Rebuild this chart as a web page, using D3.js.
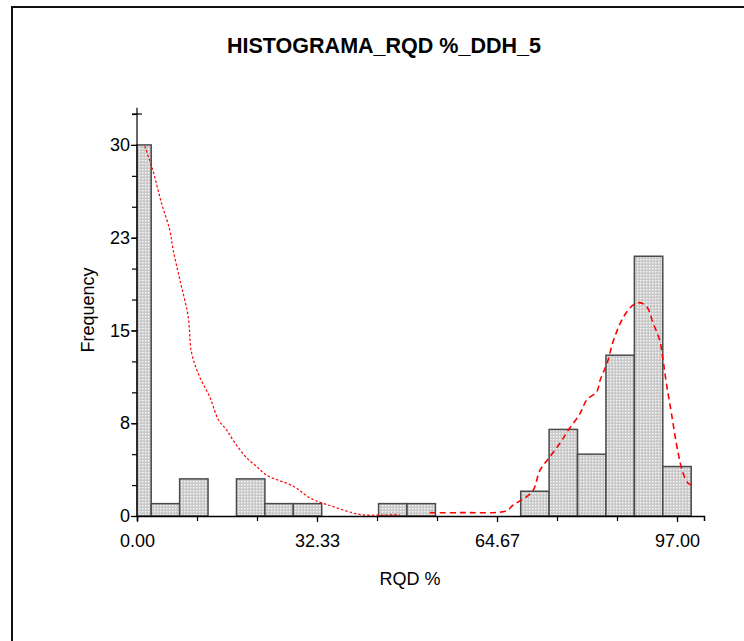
<!DOCTYPE html>
<html>
<head>
<meta charset="utf-8">
<script src="https://cdn.jsdelivr.net/npm/d3@7/dist/d3.min.js"></script>
<style>
  html, body { margin: 0; padding: 0; background: #fff; }
  svg { display: block; }
  text { font-family: "Liberation Sans", Arial, sans-serif; fill: #000; }
</style>
</head>
<body>
<svg id="chart" width="744" height="641"></svg>
<script>
// RQD % histogram, hole DDH_5
const title = "HISTOGRAMA_RQD %_DDH_5";
const xLabel = "RQD %";
const yLabel = "Frequency";

// 20 bins centred on k * 97/19, counts per bin
const binWidth = 97 / 19;
const counts = [30, 1, 3, 0, 3, 1, 1, 0, 0, 1, 1, 0, 0, 0, 2, 7, 5, 13, 21, 4];

// axis ticks
const xTickValues = [0, 32.33, 64.67, 97];
const xTickLabels = ["0.00", "32.33", "64.67", "97.00"];
const yTickValues = [0, 7.5, 15, 22.5, 30];
const yTickLabels = ["0", "8", "15", "23", "30"];

// fitted density curves, scaled to frequency (low-RQD and high-RQD populations)
const lowCurveX = [1.4, 2.75, 4.4, 5.9, 6.5, 7.7, 9.2, 9.8, 11.3, 13.1, 14.6, 16.1, 17.6, 19.7, 21.5, 23.3, 28.1, 31.1, 35.3, 40.1, 44.5, 47.2];
const lowCurveY = [29.9, 28.1, 25.3, 23.1, 21.5, 19.1, 16.1, 13.2, 11.2, 9.6, 7.8, 6.95, 5.9, 4.7, 4.0, 3.3, 2.4, 1.45, 0.75, 0.12, 0.08, 0.1];
const highCurveX = [52.6, 58.0, 66.4, 67.6, 70.0, 71.2, 72.4, 74.2, 76.0, 77.5, 79.6, 80.8, 82.6, 83.2, 84.4, 85.6, 87.4, 89.1, 90.3, 91.6, 92.7, 93.9, 94.5, 95.1, 96.0, 97.2, 98.1, 99.0, 99.8];
const highCurveY = [0.27, 0.27, 0.43, 0.9, 1.56, 2.1, 3.7, 4.8, 5.9, 6.95, 8.3, 9.4, 10.05, 11.0, 12.3, 14.2, 16.1, 17.05, 17.25, 16.9, 15.6, 14.2, 12.6, 10.7, 8.3, 5.1, 3.45, 2.65, 2.5];

const svg = d3.select("#chart");

// outer frame
svg.append("path")
  .attr("d", "M12,650 L12,7 L760,7")
  .attr("fill", "none")
  .attr("stroke", "#111")
  .attr("stroke-width", 2);

const x = d3.scaleLinear().domain([0, 101.85]).range([137, 704]);
const y = d3.scaleLinear().domain([0, 32.5]).range([516, 114]);

// bar fill: light grey with a fine dot grid
const defs = svg.append("defs");
const pat = defs.append("pattern")
  .attr("id", "dots")
  .attr("patternUnits", "userSpaceOnUse")
  .attr("width", 3).attr("height", 3);
pat.append("rect").attr("width", 3).attr("height", 3).attr("fill", "#c9c9c9");
pat.append("rect").attr("x", 1).attr("y", 1).attr("width", 1).attr("height", 1).attr("fill", "#f4f4f4");
pat.append("rect").attr("x", 2).attr("y", 1).attr("width", 1).attr("height", 1).attr("fill", "#e2e2e2");
pat.append("rect").attr("x", 1).attr("y", 2).attr("width", 1).attr("height", 1).attr("fill", "#e2e2e2");

const bins = counts.map((c, k) => {
  const centre = k * binWidth;
  return { x0: Math.max(0, centre - binWidth / 2), x1: centre + binWidth / 2, count: c };
}).filter(d => d.count > 0);

svg.append("g").selectAll("rect")
  .data(bins)
  .join("rect")
  .attr("x", d => x(d.x0))
  .attr("y", d => y(d.count))
  .attr("width", d => x(d.x1) - x(d.x0))
  .attr("height", d => y(0) - y(d.count))
  .attr("fill", "url(#dots)")
  .attr("stroke", "#4a4a4a")
  .attr("stroke-width", 1.5);

// density curves
const line = d3.line()
  .x(d => x(d[0]))
  .y(d => y(d[1]))
  .curve(d3.curveCatmullRom.alpha(0.5));

svg.append("path")
  .datum(lowCurveX.map((v, i) => [v, lowCurveY[i]]))
  .attr("d", line)
  .attr("fill", "none")
  .attr("stroke", "#ff0000")
  .attr("stroke-width", 1.2)
  .attr("stroke-dasharray", "2.5,2");

svg.append("path")
  .datum(highCurveX.map((v, i) => [v, highCurveY[i]]))
  .attr("d", line)
  .attr("fill", "none")
  .attr("stroke", "#ff0000")
  .attr("stroke-width", 1.6)
  .attr("stroke-dasharray", "6,4");

const labelFont = "'Liberation Sans', Arial, sans-serif";

// x axis
const xMinor = d3.range(0, 10).map(i => i * 97 / 9);
const xAxisG = svg.append("g").attr("transform", `translate(0,${y(0)})`);
xAxisG.append("g")
  .call(d3.axisBottom(x).tickValues(xMinor).tickSize(5).tickFormat(""))
  .call(g => g.select(".domain").attr("stroke", "#000").attr("stroke-width", 1.5));
xAxisG.append("g")
  .call(d3.axisBottom(x).tickValues(xTickValues).tickSize(6).tickPadding(12)
    .tickFormat((d, i) => xTickLabels[i]))
  .call(g => g.select(".domain").remove())
  .call(g => g.selectAll("text").attr("font-size", 18).attr("fill", "#000")
    .style("font-family", labelFont));
xAxisG.selectAll("line").attr("stroke", "#000").attr("stroke-width", 1.2);

// y axis
const yMinor = d3.range(0, 14).map(i => i * 2.5);
const yAxisG = svg.append("g").attr("transform", `translate(${x(0)},0)`);
yAxisG.append("line")
  .attr("x1", 0).attr("x2", 0)
  .attr("y1", y(0)).attr("y2", y(33))
  .attr("stroke", "#000").attr("stroke-width", 1.5);
yAxisG.append("g")
  .call(d3.axisLeft(y).tickValues(yMinor).tickSize(5).tickFormat(""))
  .call(g => g.select(".domain").remove());
yAxisG.append("g")
  .call(d3.axisLeft(y).tickValues(yTickValues).tickSize(6).tickPadding(1)
    .tickFormat((d, i) => yTickLabels[i]))
  .call(g => g.select(".domain").remove())
  .call(g => g.selectAll("text").attr("font-size", 18).attr("fill", "#000")
    .style("font-family", labelFont));
// crossing tick at top of the axis
yAxisG.append("line")
  .attr("x1", -5).attr("x2", 5)
  .attr("y1", y(32.5)).attr("y2", y(32.5))
  .attr("stroke", "#000");
yAxisG.selectAll("line").attr("stroke", "#000").attr("stroke-width", 1.2);

// titles
svg.append("text")
  .attr("x", 384).attr("y", 53)
  .attr("text-anchor", "middle")
  .attr("font-size", 22)
  .attr("font-weight", "bold")
  .attr("textLength", 314)
  .attr("lengthAdjust", "spacingAndGlyphs")
  .text(title);

svg.append("text")
  .attr("x", 410).attr("y", 585)
  .attr("text-anchor", "middle")
  .attr("font-size", 18)
  .text(xLabel);

svg.append("text")
  .attr("transform", "translate(94,310) rotate(-90)")
  .attr("text-anchor", "middle")
  .attr("font-size", 18)
  .text(yLabel);
</script>
</body>
</html>
